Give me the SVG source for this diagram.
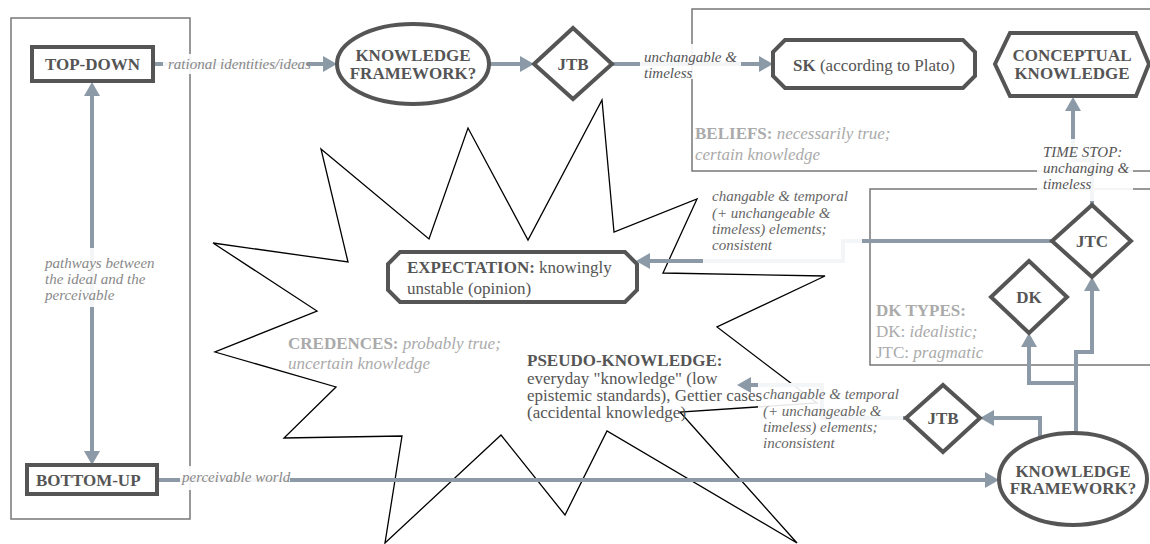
<svg xmlns="http://www.w3.org/2000/svg" width="1150" height="544" viewBox="0 0 1150 544" font-family="'Liberation Serif', 'DejaVu Serif', serif">
<style>
.cont{fill:none;stroke:#777;stroke-width:1.5}
.node{fill:#fff;stroke:#555;stroke-width:4}
text{font-family:'Liberation Serif','Times New Roman','DejaVu Serif',serif}
.nt{font-weight:bold;fill:#555;font-size:17px}
.nn{font-weight:normal}
.con{fill:none;stroke:#8b9aa6;stroke-width:4}
.lb{fill:#fff;fill-opacity:0.9}
.lt{font-style:italic;font-size:15px}
.gr{fill:#aaa;font-size:17px}
</style>
<defs>
<marker id="ah" viewBox="0 0 14 16" refX="4" refY="8" markerWidth="14" markerHeight="16" markerUnits="userSpaceOnUse" orient="auto-start-reverse">
<path d="M0,0 L14,8 L0,16 z" fill="#8b9aa6"/>
</marker>
</defs>
<rect width="1150" height="544" fill="#fff"/>
<g id="containers">
<rect class="cont" x="11" y="18" width="179" height="501"/>
<rect class="cont" x="692" y="9" width="470" height="162"/>
<rect class="cont" x="870" y="189" width="290" height="176"/>
</g>
<g id="starburst">
<polygon fill="none" stroke="#000" stroke-width="1.3" points="213,243 348,262 321,149 429,239 468,128 528,240 602,100 614,232 697,199 663,273 825,276 717,327 817,403 680,412 797,543 607,431 565,515 501,435 385,543 402,436 284,438 336,387 215,352 317,311"/>
</g>
<g id="region-texts">
<text class="gr" x="695" y="139"><tspan font-weight="bold">BELIEFS:</tspan><tspan font-style="italic"> necessarily true;</tspan></text>
<text class="gr" x="695" y="160" font-style="italic">certain knowledge</text>
<text class="gr" x="288" y="349"><tspan font-weight="bold">CREDENCES:</tspan><tspan font-style="italic"> probably true;</tspan></text>
<text class="gr" x="288" y="369" font-style="italic">uncertain knowledge</text>
<text class="gr" x="876" y="316" font-weight="bold">DK TYPES:</text>
<text class="gr" x="876" y="337">DK: <tspan font-style="italic">idealistic;</tspan></text>
<text class="gr" x="876" y="358">JTC: <tspan font-style="italic">pragmatic</tspan></text>
</g>
<g id="connectors">
<path class="con" d="M153,64 H327" marker-end="url(#ah)"/>
<path class="con" d="M490,64 H524" marker-end="url(#ah)"/>
<path class="con" d="M612,64 H763" marker-end="url(#ah)"/>
<path class="con" d="M92,92 V455" marker-start="url(#ah)" marker-end="url(#ah)"/>
<path class="con" d="M157,480 H989" marker-end="url(#ah)"/>
<path class="con" d="M1040,439 V418 H990" marker-end="url(#ah)"/>
<path class="con" d="M1076,433 V383 H1029 V343" marker-end="url(#ah)"/>
<path class="con" d="M1076,433 V352 H1092 V287" marker-end="url(#ah)"/>
<path class="con" d="M1092,205 V160 H1073 V107" marker-end="url(#ah)"/>
<path class="con" d="M1052,241 H843 V261 H646" marker-end="url(#ah)"/>
<path class="con" d="M906,418 H822 V385 H747" marker-end="url(#ah)"/>
<rect class="lb" x="163" y="54" width="144" height="20"/>
<rect class="lb" x="640" y="44" width="101" height="35"/>
<rect class="lb" x="42" y="248" width="110" height="59"/>
<rect class="lb" x="180" y="466" width="110" height="24"/>
<rect class="lb" x="1037" y="139" width="96" height="62"/>
<rect class="lb" x="703" y="184" width="159" height="79"/>
<rect class="lb" x="758" y="383" width="145" height="70"/>
<text class="lt" fill="#888" x="168" y="69">rational identities/ideas</text>
<text class="lt" fill="#555" x="644" y="62">unchangable &amp;</text>
<text class="lt" fill="#555" x="644" y="78">timeless</text>
<text class="lt" fill="#888" x="45" y="268">pathways between</text>
<text class="lt" fill="#888" x="45" y="284">the ideal and the</text>
<text class="lt" fill="#888" x="45" y="300">perceivable</text>
<text class="lt" fill="#888" x="182" y="482">perceivable world</text>
<text class="lt" fill="#555" x="1043" y="157">TIME STOP:</text>
<text class="lt" fill="#555" x="1043" y="173">unchanging &amp;</text>
<text class="lt" fill="#555" x="1043" y="189">timeless</text>
<text class="lt" fill="#666" x="712" y="201">changable &amp; temporal</text>
<text class="lt" fill="#666" x="712" y="218">(+ unchangeable &amp;</text>
<text class="lt" fill="#666" x="712" y="234">timeless) elements;</text>
<text class="lt" fill="#666" x="712" y="250">consistent</text>
<text class="lt" fill="#666" x="763" y="399">changable &amp; temporal</text>
<text class="lt" fill="#666" x="763" y="416">(+ unchangeable &amp;</text>
<text class="lt" fill="#666" x="763" y="432">timeless) elements;</text>
<text class="lt" fill="#666" x="763" y="448">inconsistent</text>
</g>
<g id="top-down">
<rect class="node" x="32" y="47" width="121" height="34"/>
<text class="nt" x="92.5" y="70" text-anchor="middle">TOP-DOWN</text>
</g>
<g id="bottom-up">
<rect class="node" x="27" y="465" width="130" height="29"/>
<text class="nt" x="36" y="486">BOTTOM-UP</text>
</g>
<g id="kf-top">
<ellipse class="node" cx="413" cy="64" rx="76" ry="40"/>
<text class="nt" font-size="16" x="413" y="61" text-anchor="middle">KNOWLEDGE</text>
<text class="nt" font-size="16" x="413" y="79" text-anchor="middle">FRAMEWORK?</text>
</g>
<g id="jtb-top">
<polygon class="node" points="573,28 612,64 573,99 534,64"/>
<text class="nt" x="573" y="70" text-anchor="middle">JTB</text>
</g>
<g id="sk">
<polygon class="node" points="785,40 963,40 975,52 975,76 963,88 785,88 773,76 773,52"/>
<text class="nt" x="874" y="71" text-anchor="middle">SK<tspan class="nn"> (according to Plato)</tspan></text>
</g>
<g id="conceptual">
<polygon class="node" points="995,64 1010,33 1136,33 1149,64 1136,96 1010,96"/>
<text class="nt" font-size="16" x="1072" y="61" text-anchor="middle">CONCEPTUAL</text>
<text class="nt" font-size="16" x="1072" y="79" text-anchor="middle">KNOWLEDGE</text>
</g>
<g id="jtc">
<polygon class="node" points="1092,205 1131,241 1092,277 1052,241"/>
<text class="nt" x="1092" y="247" text-anchor="middle">JTC</text>
</g>
<g id="dk">
<polygon class="node" points="1029,261 1067,297 1029,333 991,297"/>
<text class="nt" x="1029" y="303" text-anchor="middle">DK</text>
</g>
<g id="expectation">
<polygon class="node" points="400,252 625,252 637,264 637,290 625,302 400,302 388,290 388,264"/>
<text class="nt" x="407" y="273">EXPECTATION:<tspan class="nn"> knowingly</tspan></text>
<text class="nt nn" x="407" y="294">unstable (opinion)</text>
</g>
<g id="pseudo-knowledge">
<text class="nt" x="527" y="366">PSEUDO-KNOWLEDGE:</text>
<text class="nt nn" font-size="14" x="527" y="384">everyday "knowledge" (low</text>
<text class="nt nn" font-size="14" x="527" y="401">epistemic standards), Gettier cases</text>
<text class="nt nn" font-size="14" x="527" y="418">(accidental knowledge)</text>
</g>
<g id="jtb-bottom">
<polygon class="node" points="943,385 980,418 943,452 906,418"/>
<text class="nt" x="943" y="424" text-anchor="middle">JTB</text>
</g>
<g id="kf-bottom">
<ellipse class="node" cx="1073" cy="479" rx="74" ry="46"/>
<text class="nt" font-size="16" x="1073" y="477" text-anchor="middle">KNOWLEDGE</text>
<text class="nt" font-size="16" x="1073" y="494" text-anchor="middle">FRAMEWORK?</text>
</g>
</svg>
